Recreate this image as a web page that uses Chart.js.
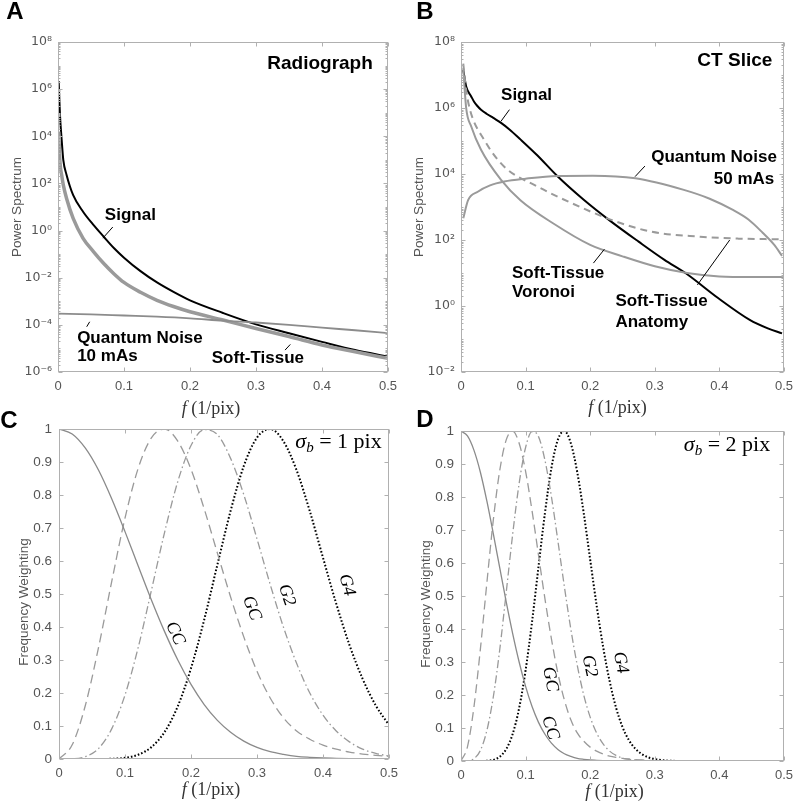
<!DOCTYPE html>
<html>
<head>
<meta charset="utf-8">
<script src="https://cdn.jsdelivr.net/npm/chart.js@4.4.1/dist/chart.umd.min.js"></script>
<style>
  body { margin: 0; background: #fff; }
  #wrap { position: relative; width: 800px; height: 806px; }
  #wrap canvas { position: absolute; left: 0; top: 0; }
</style>
</head>
<body>
<div id="wrap">
  <canvas id="chartA" width="800" height="806"></canvas>
  <canvas id="chartB" width="800" height="806"></canvas>
  <canvas id="chartC" width="800" height="806"></canvas>
  <canvas id="chartD" width="800" height="806"></canvas>
</div>
<script>
// ---- data ----
// panel A : radiograph power spectra
const fA      = [0.001, 0.003, 0.0056, 0.008, 0.013, 0.023, 0.038, 0.054, 0.069, 0.085, 0.1, 0.125, 0.15, 0.175, 0.2, 0.25, 0.3, 0.35, 0.4, 0.45, 0.5];
const signalA = [2.2e6, 8e4, 6.8e3, 1e3, 230, 32, 6.3, 1.7, 0.56, 0.178, 0.071, 0.019, 6.3e-3, 2.5e-3, 1.1e-3, 3.2e-4, 1.05e-4, 4.4e-5, 1.9e-5, 8.5e-6, 4.5e-6];
const softA   = [1.6e4, 800, 220, 87, 23, 3.3, 0.47, 0.126, 0.041, 0.0145, 6.3e-3, 2.4e-3, 1.1e-3, 6e-4, 3.6e-4, 1.6e-4, 7e-5, 3.2e-5, 1.4e-5, 7.2e-6, 3.8e-6];
const fNoiseA = [0, 0.05, 0.1, 0.15, 0.2, 0.25, 0.3, 0.35, 0.4, 0.45, 0.5];
const noiseA  = [3e-4, 2.8e-4, 2.5e-4, 2.24e-4, 1.9e-4, 1.5e-4, 1.26e-4, 1e-4, 7.6e-5, 5.9e-5, 4.5e-5];

// panel B : CT slice power spectra
const fSignalB  = [0.0035, 0.008, 0.016, 0.02, 0.025, 0.031, 0.04, 0.05, 0.062, 0.075, 0.092, 0.118, 0.149, 0.19, 0.231, 0.275, 0.315, 0.348, 0.398, 0.447, 0.475, 0.497];
const signalB   = [1.4e7, 4.5e6, 2.2e6, 1.58e6, 1.17e6, 8.9e5, 6.6e5, 5e5, 3.55e5, 2.24e5, 1.12e5, 3.7e4, 8.7e3, 1.66e3, 380, 89, 25, 9.8, 1.74, 0.38, 0.21, 0.148];
const fAnatomyB = [0.0035, 0.008, 0.014, 0.036, 0.067, 0.118, 0.168, 0.234, 0.295, 0.37, 0.43, 0.497];
const anatomyB  = [2.2e7, 3.5e6, 8.7e5, 1.07e5, 1.66e4, 4.2e3, 1.4e3, 400, 178, 126, 110, 105];
const fVoronoiB = [0.0035, 0.008, 0.016, 0.031, 0.062, 0.092, 0.143, 0.2, 0.25, 0.3, 0.35, 0.4, 0.45, 0.5];
const voronoiB  = [1.6e7, 1e6, 2.7e5, 5.4e4, 6.6e3, 1.6e3, 316, 71, 32, 16, 10, 7.9, 7.6, 7.6];
const fNoiseB   = [0.0035, 0.011, 0.026, 0.045, 0.067, 0.1, 0.149, 0.204, 0.27, 0.345, 0.385, 0.421, 0.445, 0.467, 0.485, 0.497];
const noiseB    = [457, 1620, 2900, 4500, 5900, 7200, 8700, 8900, 7400, 3300, 1780, 813, 417, 166, 71, 33];

// panel C : frequency weightings, sigma_b = 1 pix
const fC  = [0, 0.02, 0.04, 0.06, 0.08, 0.1, 0.12, 0.14, 0.16, 0.18, 0.2, 0.22, 0.24, 0.26, 0.28, 0.3, 0.32, 0.34, 0.36, 0.38, 0.4, 0.42, 0.44, 0.46, 0.48, 0.5];
const ccC = [1, 0.985, 0.942, 0.875, 0.788, 0.689, 0.585, 0.482, 0.386, 0.3, 0.226, 0.165, 0.117, 0.081, 0.054, 0.035, 0.022, 0.014, 0.008, 0.005, 0.003, 0.002, 0.001, 0, 0, 0];
const gcC = [0, 0.043, 0.163, 0.339, 0.539, 0.73, 0.881, 0.973, 1, 0.963, 0.878, 0.758, 0.624, 0.491, 0.37, 0.266, 0.185, 0.125, 0.085, 0.06, 0.042, 0.03, 0.021, 0.015, 0.011, 0.008];
const g2C = [0, 0.0005, 0.007, 0.032, 0.092, 0.194, 0.338, 0.511, 0.687, 0.841, 0.95, 0.998, 0.983, 0.911, 0.801, 0.667, 0.529, 0.4, 0.29, 0.2, 0.133, 0.085, 0.052, 0.03, 0.017, 0.009];
const g4C = [0, 0, 0, 0.0001, 0.0007, 0.0035, 0.013, 0.036, 0.082, 0.16, 0.275, 0.422, 0.589, 0.752, 0.888, 0.974, 1, 0.963, 0.875, 0.751, 0.61, 0.471, 0.346, 0.243, 0.162, 0.103];

// panel D : frequency weightings, sigma_b = 2 pix
const fD  = [0, 0.01, 0.02, 0.03, 0.04, 0.05, 0.06, 0.07, 0.08, 0.09, 0.1, 0.11, 0.12, 0.13, 0.14, 0.15, 0.16, 0.17, 0.18, 0.19, 0.2, 0.21, 0.22, 0.23, 0.24, 0.25, 0.26, 0.27, 0.28, 0.29, 0.3, 0.31, 0.32, 0.36, 0.4, 0.45, 0.5];
const ccD = [1, 0.985, 0.942, 0.875, 0.788, 0.689, 0.585, 0.482, 0.386, 0.3, 0.226, 0.165, 0.117, 0.081, 0.054, 0.035, 0.022, 0.014, 0.008, 0.005, 0.003, 0.002, 0.001, 0, 0, 0, 0, 0, 0, 0, 0, 0, 0, 0, 0, 0, 0];
const gcD = [0, 0.043, 0.163, 0.339, 0.539, 0.73, 0.881, 0.973, 1, 0.963, 0.878, 0.758, 0.624, 0.491, 0.37, 0.266, 0.185, 0.125, 0.085, 0.06, 0.042, 0.03, 0.021, 0.015, 0.011, 0.008, 0.006, 0.004, 0.003, 0.002, 0.001, 0, 0, 0, 0, 0, 0];
const g2D = [0, 0.0005, 0.007, 0.032, 0.092, 0.194, 0.338, 0.511, 0.687, 0.841, 0.95, 0.998, 0.983, 0.911, 0.801, 0.667, 0.529, 0.4, 0.29, 0.2, 0.133, 0.085, 0.052, 0.03, 0.017, 0.009, 0.005, 0.003, 0.0015, 0.001, 0, 0, 0, 0, 0, 0, 0];
const g4D = [0, 0, 0, 0.0001, 0.0007, 0.0035, 0.013, 0.036, 0.082, 0.16, 0.275, 0.422, 0.589, 0.752, 0.888, 0.974, 1, 0.963, 0.875, 0.751, 0.61, 0.471, 0.346, 0.243, 0.162, 0.103, 0.063, 0.037, 0.021, 0.011, 0.006, 0.003, 0.001, 0, 0, 0, 0];

// tick labels
const fTicks = [0, 0.1, 0.2, 0.3, 0.4, 0.5];
const expA = [-6, -4, -2, 0, 2, 4, 6, 8];
const expB = [-2, 0, 2, 4, 6, 8];
const wTicks = [0, 0.1, 0.2, 0.3, 0.4, 0.5, 0.6, 0.7, 0.8, 0.9, 1];

// ---- styling ----
const SANS = '"Liberation Sans", Arial, sans-serif';
const SERIF = '"Liberation Serif", "Times New Roman", serif';
const TICK_COLOR = '#555';
const FRAME_COLOR = '#b0b0b0';
const GRAY = '#9a9a9a';

const SUP = {'0':'⁰','1':'¹','2':'²','3':'³','4':'⁴','5':'⁵','6':'⁶','7':'⁷','8':'⁸','9':'⁹','-':'⁻'};
function sup(n) { return String(n).split('').map(c => SUP[c]).join(''); }
function E(e) { return Math.pow(10, e); }
function pts(xs, ys) { return xs.map((x, i) => ({ x: x, y: ys[i] })); }

function ds(data, color, width, dash) {
    return { data: data, borderColor: color, borderWidth: width, borderDash: dash || [], pointRadius: 0, fill: false };
}

function xAxis() {
    return {
        type: 'linear', min: 0, max: 0.5,
        grid: { display: false, drawTicks: false }, border: { display: false },
        ticks: { color: TICK_COLOR, font: { family: SANS, size: 13 }, padding: 7, maxRotation: 0, autoSkip: false,
                 callback: v => v === 0 ? '0' : (+v).toFixed(1) },
        afterBuildTicks: s => { s.ticks = fTicks.map(v => ({ value: v })); },
        afterFit: s => { s.height = 30; }
    };
}

function logAxis(exps) {
    return {
        type: 'logarithmic', min: E(exps[0]), max: E(exps[exps.length - 1]),
        grid: { display: false, drawTicks: false }, border: { display: false },
        ticks: { color: TICK_COLOR, font: { family: '"DejaVu Sans", sans-serif', size: 12.5 }, padding: 6, autoSkip: false,
                 callback: v => '10' + sup(Math.round(Math.log10(v))) },
        afterBuildTicks: s => { s.ticks = exps.map(e => ({ value: E(e) })); },
        afterFit: s => { s.width = 50; }
    };
}

function linAxis() {
    return {
        type: 'linear', min: 0, max: 1,
        grid: { display: false, drawTicks: false }, border: { display: false },
        ticks: { color: TICK_COLOR, font: { family: SANS, size: 13.5 }, padding: 7, autoSkip: false,
                 callback: v => (v === 0 || v === 1) ? String(v) : (+v).toFixed(1) },
        afterBuildTicks: s => { s.ticks = wTicks.map(v => ({ value: v })); },
        afterFit: s => { s.width = 50; }
    };
}

function txt(ctx, s, x, y, font, color, align, rot) {
    ctx.save();
    ctx.translate(x, y);
    if (rot) ctx.rotate(rot * Math.PI / 180);
    ctx.font = font;
    ctx.fillStyle = color;
    ctx.textAlign = align || 'left';
    ctx.textBaseline = 'middle';
    ctx.fillText(s, 0, 0);
    ctx.restore();
}

function seg(ctx, x1, y1, x2, y2) {
    ctx.beginPath(); ctx.moveTo(x1, y1); ctx.lineTo(x2, y2); ctx.stroke();
}

// frame, inward ticks, titles and annotations
function decor(spec) {
    return {
        id: 'decor',
        afterDraw(chart) {
            const ctx = chart.ctx, a = chart.chartArea;
            const xs = chart.scales.x, ys = chart.scales.y;
            const L = Math.round(a.left) + 0.5, R = Math.round(a.right) - 0.5;
            const T = Math.round(a.top) + 0.5, B = Math.round(a.bottom) - 0.5;
            ctx.save();
            ctx.strokeStyle = FRAME_COLOR;
            ctx.lineWidth = 1;
            ctx.strokeRect(L, T, R - L, B - T);
            xs.ticks.forEach(t => {
                const p = Math.round(xs.getPixelForValue(t.value)) + 0.5;
                seg(ctx, p, B, p, B - 4); seg(ctx, p, T, p, T + 4);
            });
            ys.ticks.forEach(t => {
                const p = Math.round(ys.getPixelForValue(t.value)) + 0.5;
                seg(ctx, L, p, L + 4, p); seg(ctx, R, p, R - 4, p);
            });
            if (spec.minor) {
                for (let d = spec.minor[0]; d < spec.minor[1]; d++) {
                    for (let m = 1; m < 10; m++) {
                        if (m === 1 && (d - spec.minor[0]) % 2 === 0) continue;
                        const p = Math.round(ys.getPixelForValue(m * E(d))) + 0.5;
                        seg(ctx, L, p, L + 2, p); seg(ctx, R, p, R - 2, p);
                    }
                }
            }

            // axis titles
            txt(ctx, spec.yTitle, a.left + spec.yTitleDx, (a.top + a.bottom) / 2 + (spec.yTitleDy || 0),
                '13.5px ' + SANS, '#555', 'center', -90);
            const cx = (a.left + a.right) / 2 + spec.xTitleDx, cy = a.bottom + spec.xTitleDy;
            ctx.font = 'italic 18px ' + SERIF;
            const w1 = ctx.measureText('f').width;
            ctx.font = '18px ' + SERIF;
            const w2 = ctx.measureText(' (1/pix)').width;
            const x0 = cx - (w1 + w2) / 2;
            txt(ctx, 'f', x0, cy, 'italic 18px ' + SERIF, '#333', 'left');
            txt(ctx, ' (1/pix)', x0 + w1, cy, '18px ' + SERIF, '#333', 'left');

            // panel letter
            txt(ctx, spec.letter, spec.letterPos[0], spec.letterPos[1], 'bold 24px ' + SANS, '#000', 'center');

            // curve labels
            (spec.labels || []).forEach(l => {
                txt(ctx, l.t, xs.getPixelForValue(l.x), ys.getPixelForValue(l.y),
                    l.font || ('bold 17px ' + SANS), '#000', l.align || 'left', l.rot || 0);
            });
            ctx.strokeStyle = '#000';
            ctx.lineWidth = 1;
            (spec.leaders || []).forEach(s => {
                seg(ctx, xs.getPixelForValue(s[0]), ys.getPixelForValue(s[1]),
                         xs.getPixelForValue(s[2]), ys.getPixelForValue(s[3]));
            });

            // sigma_b annotation
            if (spec.sigma) {
                const sx = xs.getPixelForValue(spec.sigma.x), sy = ys.getPixelForValue(spec.sigma.y);
                ctx.font = 'italic 22px ' + SERIF;
                const ws = ctx.measureText('σ').width;
                txt(ctx, 'σ', sx, sy, 'italic 22px ' + SERIF, '#000', 'left');
                ctx.font = 'italic 15px ' + SERIF;
                const wb = ctx.measureText('b').width;
                txt(ctx, 'b', sx + ws, sy + 6, 'italic 15px ' + SERIF, '#000', 'left');
                txt(ctx, ' = ' + spec.sigma.n + ' pix', sx + ws + wb, sy, '22px ' + SERIF, '#000', 'left');
            }
            ctx.restore();
        }
    };
}

function makeChart(id, pad, yScale, datasets, spec) {
    return new Chart(document.getElementById(id), {
        type: 'line',
        data: { datasets: datasets },
        options: {
            responsive: false,
            animation: false,
            devicePixelRatio: 1,
            layout: { padding: pad },
            plugins: { legend: { display: false }, tooltip: { enabled: false } },
            elements: { line: { cubicInterpolationMode: 'monotone', borderCapStyle: 'butt' } },
            scales: { x: xAxis(), y: yScale }
        },
        plugins: [decor(spec)]
    });
}

// ---- A ----
makeChart('chartA', { left: 8, right: 412, top: 42, bottom: 404 }, logAxis(expA), [
    ds(pts(fNoiseA, noiseA), '#8c8c8c', 1.8),
    ds(pts(fA, softA), GRAY, 3.5),
    ds(pts(fA, signalA), '#000', 2)
], {
    letter: 'A', letterPos: [15, 12],
    yTitle: 'Power Spectrum', yTitleDx: -41, xTitleDx: -12, xTitleDy: 37,
    minor: [-6, 8],
    labels: [
        { t: 'Radiograph', x: 0.477, y: E(7.09), align: 'right', font: 'bold 19px ' + SANS },
        { t: 'Signal', x: 0.071, y: E(0.66) },
        { t: 'Quantum Noise', x: 0.029, y: E(-4.58) },
        { t: '10 mAs', x: 0.029, y: E(-5.32) },
        { t: 'Soft-Tissue', x: 0.233, y: E(-5.43) }
    ],
    leaders: [
        [0.068, E(-0.32), 0.083, E(0.15)],
        [0.0435, E(-4.08), 0.048, E(-3.87)],
        [0.344, E(-5.07), 0.352, E(-4.83)]
    ]
});

// ---- B ----
makeChart('chartB', { left: 411, right: 10, top: 42, bottom: 404 }, logAxis(expB), [
    ds(pts(fNoiseB, noiseB), GRAY, 2),
    ds(pts(fVoronoiB, voronoiB), GRAY, 2),
    ds(pts(fAnatomyB, anatomyB), GRAY, 2, [7, 5]),
    ds(pts(fSignalB, signalB), '#000', 2)
], {
    letter: 'B', letterPos: [425, 12],
    yTitle: 'Power Spectrum', yTitleDx: -42, xTitleDx: -5, xTitleDy: 36,
    minor: [-2, 8],
    labels: [
        { t: 'CT Slice', x: 0.482, y: E(7.44), align: 'right', font: 'bold 19px ' + SANS },
        { t: 'Signal', x: 0.062, y: E(6.39) },
        { t: 'Quantum Noise', x: 0.489, y: E(4.52), align: 'right' },
        { t: '50 mAs', x: 0.485, y: E(3.85), align: 'right' },
        { t: 'Soft-Tissue', x: 0.079, y: E(0.98) },
        { t: 'Voronoi', x: 0.079, y: E(0.41) },
        { t: 'Soft-Tissue', x: 0.239, y: E(0.14) },
        { t: 'Anatomy', x: 0.239, y: E(-0.5) }
    ],
    leaders: [
        [0.062, E(5.6), 0.075, E(5.95)],
        [0.2695, E(3.92), 0.2847, E(4.24)],
        [0.205, E(1.3), 0.222, E(1.72)],
        [0.366, E(0.64), 0.416, E(2.0)]
    ]
});

// ---- C ----
const ROT_FONT = 'italic 18px ' + SERIF;
makeChart('chartC', { left: 9, right: 411, top: 429, bottom: 17 }, linAxis(), [
    ds(pts(fC, ccC), '#8a8a8a', 1.3),
    ds(pts(fC, gcC), GRAY, 1.3, [9, 5]),
    ds(pts(fC, g2C), GRAY, 1.3, [8, 3, 1.5, 3]),
    ds(pts(fC, g4C), '#000', 2, [1.6, 2])
], {
    letter: 'C', letterPos: [9, 421],
    yTitle: 'Frequency Weighting', yTitleDx: -35, yTitleDy: 8, xTitleDx: -13, xTitleDy: 31,
    labels: [
        { t: 'CC', x: 0.176, y: 0.381, font: ROT_FONT, align: 'center', rot: 65 },
        { t: 'GC', x: 0.292, y: 0.457, font: ROT_FONT, align: 'center', rot: 69 },
        { t: 'G2', x: 0.345, y: 0.497, font: ROT_FONT, align: 'center', rot: 71 },
        { t: 'G4', x: 0.436, y: 0.527, font: ROT_FONT, align: 'center', rot: 74 }
    ],
    sigma: { x: 0.358, y: 0.96, n: 1 }
});

// ---- D ----
makeChart('chartD', { left: 411, right: 10, top: 431, bottom: 15 }, linAxis(), [
    ds(pts(fD, ccD), '#8a8a8a', 1.3),
    ds(pts(fD, gcD), GRAY, 1.3, [9, 5]),
    ds(pts(fD, g2D), GRAY, 1.3, [8, 3, 1.5, 3]),
    ds(pts(fD, g4D), '#000', 2, [1.6, 2])
], {
    letter: 'D', letterPos: [425, 420],
    yTitle: 'Frequency Weighting', yTitleDx: -35, yTitleDy: 8, xTitleDx: -8, xTitleDy: 31,
    labels: [
        { t: 'GC', x: 0.138, y: 0.248, font: ROT_FONT, align: 'center', rot: 78 },
        { t: 'G2', x: 0.199, y: 0.288, font: ROT_FONT, align: 'center', rot: 78 },
        { t: 'G4', x: 0.247, y: 0.298, font: ROT_FONT, align: 'center', rot: 78 },
        { t: 'CC', x: 0.138, y: 0.101, font: ROT_FONT, align: 'center', rot: 72 }
    ],
    sigma: { x: 0.345, y: 0.956, n: 2 }
});
</script>
</body>
</html>
